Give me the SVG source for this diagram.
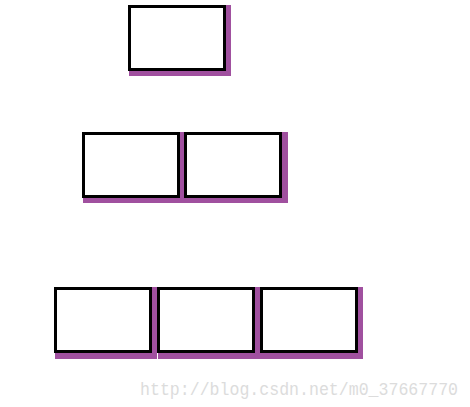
<svg xmlns="http://www.w3.org/2000/svg" width="470" height="407" viewBox="0 0 470 407">
<style>
.sh{fill:#a0509f}
.bx{fill:#fff;stroke:#000;stroke-width:3}
.wm{font-family:"Liberation Mono","DejaVu Sans Mono",monospace;font-size:18px;fill:#dcdcdc}
</style>
<rect width="470" height="407" fill="#fff"/>
<g id="n1"><rect class="sh" x="129" y="5" width="102" height="71"/><rect class="bx" x="129.5" y="6.5" width="95" height="63"/></g>
<g id="n2"><rect class="sh" x="83" y="132" width="102" height="71"/><rect class="bx" x="83.5" y="133.5" width="95" height="63"/></g>
<g id="n3"><rect class="sh" x="185" y="132" width="103" height="71"/><rect class="bx" x="185.5" y="133.5" width="95" height="63"/></g>
<g id="n4"><rect class="sh" x="55" y="287" width="102" height="72"/><rect class="bx" x="55.5" y="288.5" width="95" height="63"/></g>
<g id="n5"><rect class="sh" x="158" y="287" width="102" height="72"/><rect class="bx" x="158.5" y="288.5" width="95" height="63"/></g>
<g id="n6"><rect class="sh" x="260" y="287" width="103" height="72"/><rect class="bx" x="261.5" y="288.5" width="95" height="63"/></g>
<g id="connectors"></g>
<text class="wm" x="140" y="395" textLength="318" lengthAdjust="spacingAndGlyphs">http://blog.csdn.net/m0_37667770</text>
</svg>
